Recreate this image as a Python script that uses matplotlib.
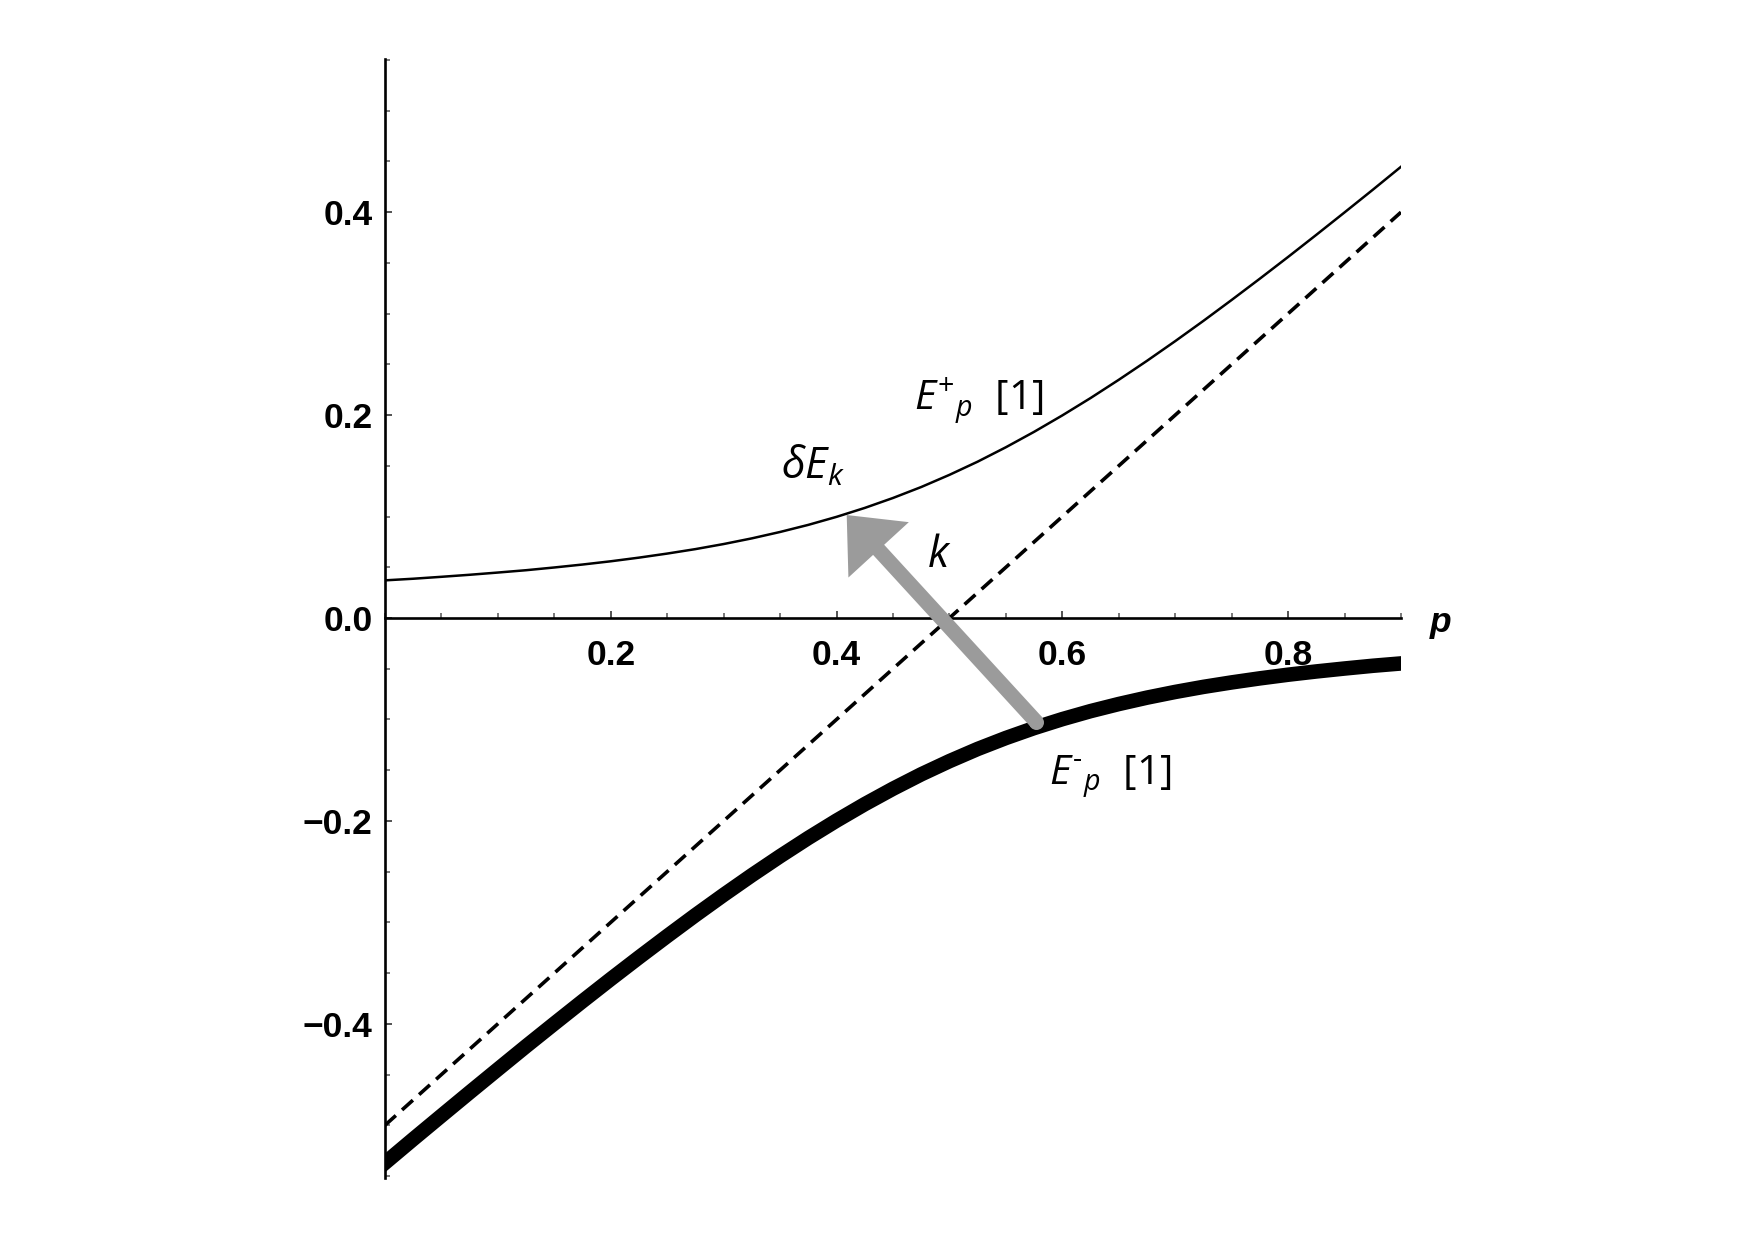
import matplotlib
matplotlib.use("Agg")
import matplotlib.pyplot as plt
from matplotlib.ticker import MultipleLocator, FixedLocator
from matplotlib.patches import FancyArrowPatch, ArrowStyle

# ---- data ----
p_values = [0.000, 0.025, 0.050, 0.075, 0.100, 0.125, 0.150, 0.175, 0.200, 0.225,
            0.250, 0.275, 0.300, 0.325, 0.350, 0.375, 0.400, 0.425, 0.450, 0.475,
            0.500, 0.525, 0.550, 0.575, 0.600, 0.625, 0.650, 0.675, 0.700, 0.725,
            0.750, 0.775, 0.800, 0.825, 0.850, 0.875, 0.900]
e_plus = [0.0371, 0.0387, 0.0406, 0.0426, 0.0448, 0.0471, 0.0498, 0.0527, 0.0559, 0.0595,
          0.0635, 0.0679, 0.0729, 0.0785, 0.0848, 0.0918, 0.0997, 0.1085, 0.1183, 0.1291,
          0.1411, 0.1541, 0.1683, 0.1835, 0.1997, 0.2168, 0.2348, 0.2535, 0.2729, 0.2929,
          0.3135, 0.3345, 0.3559, 0.3777, 0.3998, 0.4221, 0.4448]
e_minus = [-0.5371, -0.5137, -0.4906, -0.4676, -0.4448, -0.4221, -0.3998, -0.3777, -0.3559, -0.3345,
           -0.3135, -0.2929, -0.2729, -0.2535, -0.2348, -0.2168, -0.1997, -0.1835, -0.1683, -0.1541,
           -0.1411, -0.1291, -0.1183, -0.1085, -0.0997, -0.0918, -0.0848, -0.0785, -0.0729, -0.0679,
           -0.0635, -0.0595, -0.0559, -0.0527, -0.0498, -0.0471, -0.0448]
free_p = [0.0, 0.9]
free_e = [-0.5, 0.4]

x_major = [0.2, 0.4, 0.6, 0.8]
x_labels = ["0.2", "0.4", "0.6", "0.8"]
y_major = [-0.4, -0.2, 0.0, 0.2, 0.4]
y_labels = ["\u22120.4", "\u22120.2", "0.0", "0.2", "0.4"]

arrow_tail = (0.577, -0.1025)
arrow_tip = (0.409, 0.1015)

label_plus = r"$E^{+}{}_{p}$  [1]"
label_minus = r"$E^{\text{-}}{}_{p}$  [1]"
label_delta = r"$\delta E_{k}$"
label_k = r"$k$"
axis_label = "p"

# ---- style ----
plt.rcParams["mathtext.fontset"] = "custom"
plt.rcParams["mathtext.it"] = "Open Sans:italic"
plt.rcParams["mathtext.rm"] = "Open Sans"
plt.rcParams["mathtext.bf"] = "Open Sans:bold"
plt.rcParams["lines.scale_dashes"] = False

fig = plt.figure(figsize=(17.55, 12.40), dpi=100)
ax = fig.add_axes([385 / 1755, 0.05, (1401 - 385) / 1755, (1178 - 59) / 1240])
ax.set_xlim(0, 0.9)
ax.set_ylim(-0.552, 0.551)

ax.plot(p_values, e_plus, color="black", lw=1.8, solid_capstyle="projecting", zorder=3)
ax.plot(p_values, e_minus, color="black", lw=10.5, solid_capstyle="projecting", zorder=3)
ax.plot(free_p, free_e, color="black", lw=2.6, dashes=(10.5, 6.0), zorder=3)

# arrow
arr = FancyArrowPatch(arrow_tail, arrow_tip,
                      arrowstyle=ArrowStyle.Simple(head_length=34, head_width=59, tail_width=10.8),
                      mutation_scale=1, color="#9b9b9b", lw=0, shrinkA=0, shrinkB=0, zorder=5)
ax.add_patch(arr)
ax.plot([arrow_tail[0]], [arrow_tail[1]], marker="o", ms=10.8, color="#9b9b9b", mew=0, zorder=5)

# spines
for s in ["top", "right"]:
    ax.spines[s].set_visible(False)
ax.spines["bottom"].set_position(("data", 0))
ax.spines["left"].set_linewidth(1.9)
ax.spines["bottom"].set_linewidth(1.9)

ax.xaxis.set_major_locator(FixedLocator(x_major))
ax.set_xticklabels(x_labels)
ax.xaxis.set_minor_locator(MultipleLocator(0.05))
ax.yaxis.set_major_locator(FixedLocator(y_major))
ax.set_yticklabels(y_labels)
ax.yaxis.set_minor_locator(MultipleLocator(0.05))

ax.tick_params(which="major", direction="in", length=5, width=1.3, color="#444444")
ax.tick_params(which="minor", direction="in", length=3.5, width=1.1, color="#555555")
ax.tick_params(axis="x", which="major", pad=15)
ax.tick_params(axis="y", which="major", pad=9)
for lab in ax.get_xticklabels() + ax.get_yticklabels():
    lab.set_fontfamily("Liberation Sans")
    lab.set_fontweight("bold")
    lab.set_fontsize(25.5)

ax.annotate(axis_label, xy=(0.9, 0), xycoords="data", xytext=(21, -10), textcoords="offset points",
            ha="left", va="baseline", fontfamily="Liberation Sans", fontweight="bold",
            fontstyle="italic", fontsize=25.5)

txt_kw = dict(fontfamily="Open Sans", fontsize=29.5, ha="left", va="baseline", zorder=6)
ax.text(0.469, 0.205, label_plus, **txt_kw)
ax.text(0.5885, -0.1645, label_minus, **txt_kw)
ax.text(0.351, 0.137, label_delta, **dict(txt_kw, fontsize=31))
ax.text(0.4805, 0.050, label_k, **dict(txt_kw, fontsize=31))

fig.savefig("out.png", dpi=100)
